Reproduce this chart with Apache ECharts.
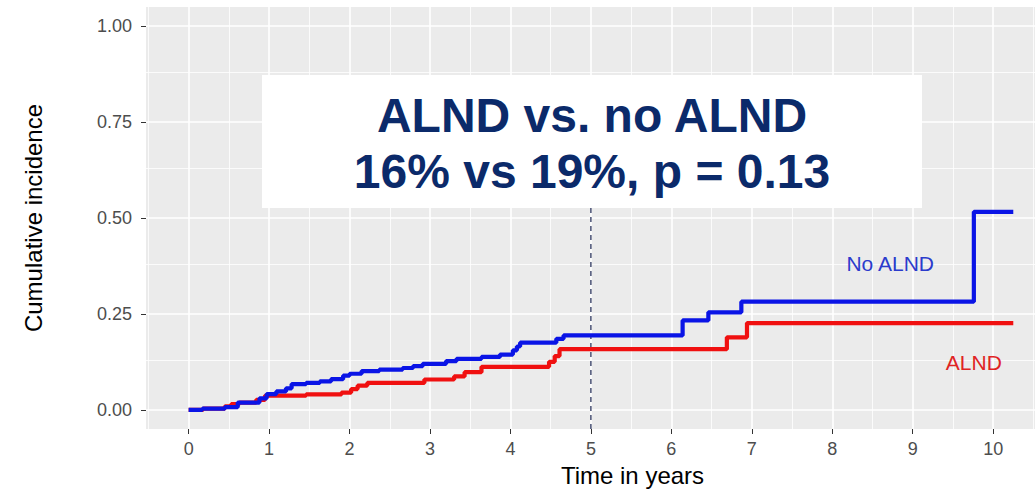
<!DOCTYPE html>
<html><head><meta charset="utf-8">
<script src="https://cdn.jsdelivr.net/npm/echarts@6/dist/echarts.min.js"></script>
<style>html,body{margin:0;padding:0;background:#fff}#c{width:1035px;height:493px}</style>
</head><body><div id="c"></div>
<script>
// ---- data ----
const noAlndTime  = [0, 0.17, 0.45, 0.61, 0.88, 0.97, 1.09, 1.21, 1.28, 1.46, 1.63, 1.77, 1.92, 2.0, 2.15, 2.37, 2.66, 2.79, 2.91, 3.2, 3.33, 3.64, 3.87, 4.03, 4.08, 4.12, 4.57, 4.66, 6.14, 6.46, 6.87, 9.76, 10.25];
const noAlndValue = [0, 0.003, 0.007, 0.019, 0.030, 0.041, 0.048, 0.056, 0.067, 0.070, 0.074, 0.080, 0.089, 0.094, 0.101, 0.105, 0.109, 0.114, 0.120, 0.127, 0.133, 0.138, 0.144, 0.155, 0.165, 0.175, 0.185, 0.194, 0.233, 0.254, 0.282, 0.516, 0.516];
const alndTime  = [0, 0.18, 0.45, 0.53, 0.63, 0.84, 0.95, 1.46, 1.9, 2.02, 2.1, 2.22, 2.93, 3.3, 3.43, 3.64, 4.48, 4.55, 4.61, 6.69, 6.94, 10.25];
const alndValue = [0, 0.003, 0.009, 0.015, 0.019, 0.026, 0.037, 0.040, 0.045, 0.054, 0.063, 0.070, 0.079, 0.087, 0.098, 0.112, 0.125, 0.140, 0.158, 0.189, 0.226, 0.226];
const refYear = 5;
const xTicks = [0, 1, 2, 3, 4, 5, 6, 7, 8, 9, 10];
const xMinorTicks = [-0.5, 0.5, 1.5, 2.5, 3.5, 4.5, 5.5, 6.5, 7.5, 8.5, 9.5, 10.5];
const yTicks = [0, 0.25, 0.5, 0.75, 1];
const yMinorTicks = [0.125, 0.375, 0.625, 0.875];
const titleLines = ['ALND vs. no ALND', '16% vs 19%, p = 0.13'];
const groupNames = ['No ALND', 'ALND'];

// ---- chart ----
const FONT = '"Liberation Sans", Arial, sans-serif';
const chart = echarts.init(document.getElementById('c'), null, {renderer: 'svg'});
function gridLines(axis, vals, w) {
  return vals.map(v => ({[axis]: v, lineStyle: {color: '#ffffff', width: w, type: 'solid'}}));
}
const pairs = (ts, vs) => ts.map((t, i) => [t, vs[i]]);

const option = {
  animation: false,
  grid: {left: 146, right: 0, top: 7, bottom: 64, show: true, backgroundColor: '#ebebeb', borderWidth: 0},
  xAxis: {
    type: 'value', min: -0.53, max: 10.52,
    axisLine: {show: false, onZero: false},
    splitLine: {show: false},
    axisTick: {show: true, length: 5, customValues: xTicks, lineStyle: {color: '#333333', width: 1}},
    axisLabel: {customValues: xTicks, color: '#4d4d4d', fontSize: 18, fontFamily: FONT, margin: 11},
    name: 'Time in years', nameLocation: 'middle', nameGap: 34,
    nameTextStyle: {color: '#000', fontSize: 24, fontFamily: FONT, padding: [0, 0, 0, 84]}
  },
  yAxis: {
    type: 'value', min: -0.05, max: 1.05,
    axisLine: {show: false, onZero: false},
    splitLine: {show: false},
    axisTick: {show: true, length: 5, customValues: yTicks, lineStyle: {color: '#333333', width: 1}},
    axisLabel: {customValues: yTicks, color: '#4d4d4d', fontSize: 18, fontFamily: FONT, margin: 14,
      formatter: v => Number(v).toFixed(2)},
    name: 'Cumulative incidence', nameLocation: 'middle', nameGap: 101, nameRotate: 90,
    nameTextStyle: {color: '#000', fontSize: 24, fontFamily: FONT}
  },
  graphic: [
    {type: 'rect', z: 100, shape: {x: 262, y: 75, width: 660, height: 133}, style: {fill: '#ffffff'}},
    {type: 'text', z: 101, x: 592, y: 115, style: {text: titleLines[0], fill: '#0b2a6a', font: 'bold 48px ' + FONT, textAlign: 'center', textVerticalAlign: 'middle'}},
    {type: 'text', z: 101, x: 592, y: 171, style: {text: titleLines[1], fill: '#0b2a6a', font: 'bold 48px ' + FONT, textAlign: 'center', textVerticalAlign: 'middle'}}
  ],
  series: [
    {
      type: 'line', data: [], z: 1, silent: true,
      markLine: {
        z: 1, silent: true, symbol: 'none', label: {show: false}, animation: false,
        data: [].concat(
          gridLines('xAxis', xMinorTicks, 0.8),
          gridLines('yAxis', yMinorTicks, 0.8),
          gridLines('xAxis', xTicks, 1.6),
          gridLines('yAxis', yTicks, 1.6)
        )
      }
    },
    {
      type: 'line', z: 2, silent: true, showSymbol: false,
      data: [[refYear, -0.05], [refYear, 0.6]],
      lineStyle: {color: '#1a2550', width: 1.2, type: [5, 4]}
    },
    {
      name: groupNames[0], type: 'line', step: 'end', z: 4, showSymbol: false,
      data: pairs(noAlndTime, noAlndValue),
      lineStyle: {color: '#0a14e6', width: 4.2}, itemStyle: {color: '#0a14e6'},
      markPoint: {z: 4, symbol: 'circle', symbolSize: 0, silent: true,
        data: [{coord: [8.72, 0.381], label: {show: true, position: 'inside', formatter: groupNames[0], color: '#2b3bcc', fontSize: 21, fontFamily: FONT}}]}
    },
    {
      name: groupNames[1], type: 'line', step: 'end', z: 3, showSymbol: false,
      data: pairs(alndTime, alndValue),
      lineStyle: {color: '#f01010', width: 4.2}, itemStyle: {color: '#f01010'},
      markPoint: {z: 4, symbol: 'circle', symbolSize: 0, silent: true,
        data: [{coord: [9.76, 0.123], label: {show: true, position: 'inside', formatter: groupNames[1], color: '#e02424', fontSize: 21, fontFamily: FONT}}]}
    }
  ]
};
chart.setOption(option);
</script>
</body></html>
